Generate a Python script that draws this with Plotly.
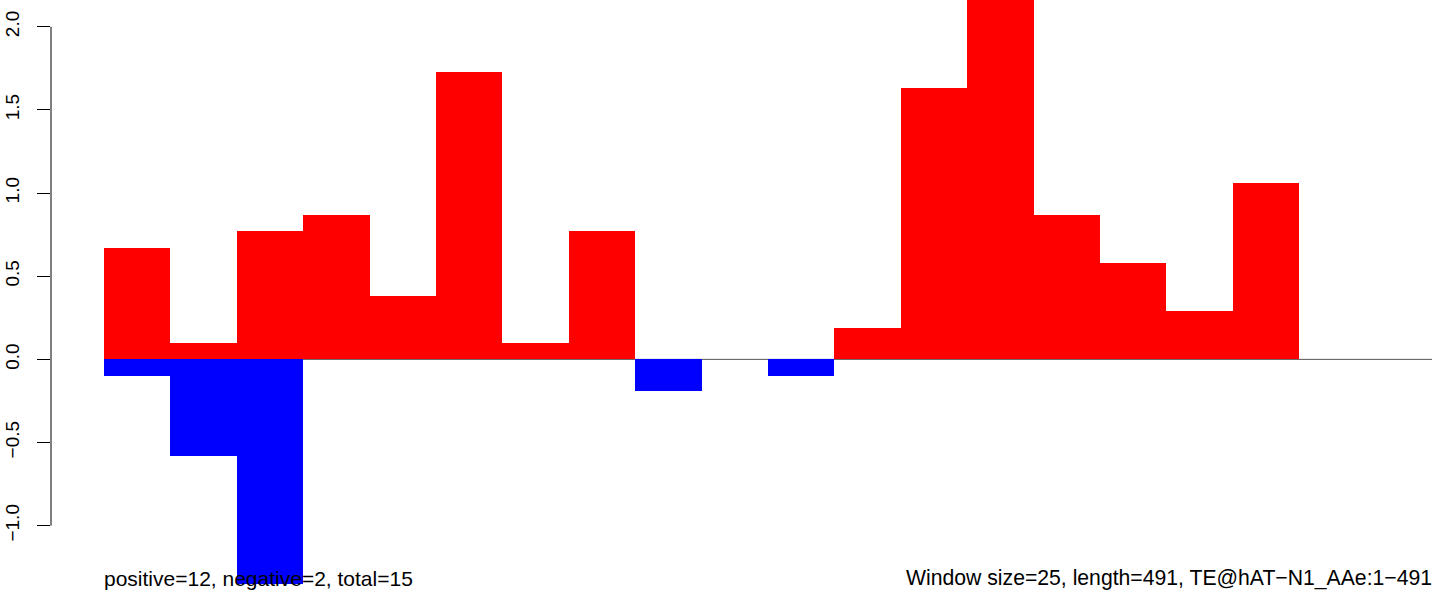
import plotly.graph_objects as go

window_size = 25
seq_length = 491
n_windows = 20

# window start positions (sequence coordinates)
window_starts = [i * window_size for i in range(n_windows)]

positive_scores = [0.67, 0.10, 0.77, 0.87, 0.38, 1.73, 0.10, 0.77, 0.0, 0.0,
                   0.0, 0.19, 1.63, 2.21, 0.87, 0.58, 0.29, 1.06, 0.0, 0.0]
negative_scores = [-0.10, -0.58, -1.35, 0.0, 0.0, 0.0, 0.0, 0.0, -0.19, 0.0,
                   -0.10, 0.0, 0.0, 0.0, 0.0, 0.0, 0.0, 0.0, 0.0, 0.0]

y_tick_vals = [-1.0, -0.5, 0.0, 0.5, 1.0, 1.5, 2.0]
y_tick_text = ["\u22121.0", "\u22120.5", "0.0", "0.5", "1.0", "1.5", "2.0"]

left_label = "positive=12, negative=2, total=15"
right_label = "Window size=25, length=491, TE@hAT\u2212N1_AAe:1\u2212491"

centers = [s + window_size / 2 for s in window_starts]
x_end = n_windows * window_size

fig = go.Figure()
fig.add_trace(go.Bar(x=centers, y=positive_scores, width=window_size,
                     marker=dict(color="#FF0000", line=dict(width=0)),
                     showlegend=False, hoverinfo="skip"))
fig.add_trace(go.Bar(x=centers, y=negative_scores, width=window_size,
                     marker=dict(color="#0000FF", line=dict(width=0)),
                     showlegend=False, hoverinfo="skip"))

# baseline at zero, beneath bars
fig.add_shape(type="line", xref="x", yref="y", x0=0, x1=x_end, y0=0, y1=0,
              line=dict(color="#555555", width=1), layer="below")
# y axis line from first to last tick (R style)
fig.add_shape(type="line", xref="paper", yref="y", x0=0, x1=0,
              y0=y_tick_vals[0], y1=y_tick_vals[-1],
              line=dict(color="black", width=1))

px_per_unit = 1328 / x_end
x_left = -(104 - 51) / px_per_unit
x_right = (1444 - 104) / px_per_unit

font_family = "Liberation Sans, Arial, sans-serif"

fig.update_layout(
    width=1444, height=592,
    margin=dict(l=51, r=0, t=0, b=0),
    paper_bgcolor="white", plot_bgcolor="white",
    barmode="overlay", bargap=0,
    font=dict(family=font_family, color="black"),
    xaxis=dict(range=[x_left, x_right], visible=False, fixedrange=True),
    yaxis=dict(range=[-1.399, 2.161], tickvals=y_tick_vals, ticktext=y_tick_text,
               tickangle=-90, ticks="outside", ticklen=13, tickwidth=1,
               tickcolor="black", showgrid=False, zeroline=False, showline=False,
               tickfont=dict(size=19, family=font_family, color="black"),
               ticklabelstandoff=10, fixedrange=True),
    annotations=[
        dict(text=left_label, xref="x", yref="paper", x=0, y=0,
             xanchor="left", yanchor="bottom", showarrow=False,
             font=dict(size=21, family=font_family, color="black"),
             xshift=-2, yshift=0),
        dict(text=right_label, xref="x", yref="paper", x=x_end, y=0,
             xanchor="right", yanchor="bottom", showarrow=False,
             font=dict(size=21.2, family=font_family, color="black"),
             xshift=2, yshift=0),
    ],
)

fig.write_html("out.html", config={"displayModeBar": False},
               post_script="document.body.style.margin='0';document.body.style.overflow='hidden';")
